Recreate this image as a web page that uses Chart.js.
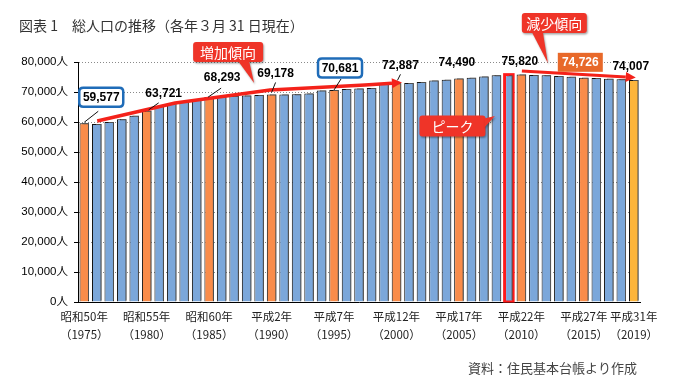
<!DOCTYPE html>
<html>
<head>
<meta charset="utf-8">
<script src="https://cdn.jsdelivr.net/npm/chart.js@4.4.0/dist/chart.umd.min.js"></script>
<style>
  html, body { margin: 0; padding: 0; background: #fff; }
</style>
</head>
<body>
<canvas id="popChart" width="673" height="387"></canvas>
<script>
const years = [1975, 1976, 1977, 1978, 1979, 1980, 1981, 1982, 1983, 1984,
  1985, 1986, 1987, 1988, 1989, 1990, 1991, 1992, 1993, 1994,
  1995, 1996, 1997, 1998, 1999, 2000, 2001, 2002, 2003, 2004,
  2005, 2006, 2007, 2008, 2009, 2010, 2011, 2012, 2013, 2014,
  2015, 2016, 2017, 2018, 2019];

const population = [59577, 59300, 60000, 60900, 62100, 63721, 65300, 66300, 67000, 67600,
  68293, 68450, 68650, 68850, 69000, 69178, 69150, 69250, 69500, 70500,
  70681, 71000, 71200, 71300, 72700, 72887, 73000, 73300, 73800, 74100,
  74490, 74750, 75150, 75550, 75950, 75820, 75700, 75600, 75350, 75100,
  74726, 74650, 74400, 74250, 74007];

const tickYears = [1975, 1980, 1985, 1990, 1995, 2000, 2005, 2010, 2015, 2019];
const tickEras = ['昭和50年', '昭和55年', '昭和60年', '平成2年', '平成7年',
  '平成12年', '平成17年', '平成22年', '平成27年', '平成31年'];

const peakYear = 2009;

const BLUE = '#7BA7DA';
const ORANGE = '#F98C4A';
const GOLD = '#FDB53B';

const barColors = years.map((y, i) =>
  i === years.length - 1 ? GOLD : (y % 5 === 0 ? ORANGE : BLUE));
const borderColors = years.map(y => y === peakYear ? '#FF1A1A' : '#111');
const borderWidths = years.map(y => y === peakYear ? 2 : 1);

// value labels: year, offset of text centre from bar top, style, leader line
const valueLabels = [
  { year: 1975, dx: 17, dy: -26, style: 'blue', leader: [0, -1, 14, -12] },
  { year: 1980, dx: 17, dy: -18, style: 'plain', leader: [2, -1, 12, -8] },
  { year: 1985, dx: 13, dy: -20, style: 'plain', leader: [-1, 0, 12, -9] },
  { year: 1990, dx: 4, dy: -21, style: 'plain', leader: [0, -2, 4, -12] },
  { year: 1995, dx: 6, dy: -22, style: 'blue', leader: [0, 0, 7, -11] },
  { year: 2000, dx: 4, dy: -18, style: 'plain', leader: [1, -3, 4, -9] },
  { year: 2005, dx: -2, dy: -16, style: 'plain' },
  { year: 2010, dx: -1.5, dy: -13.5, style: 'plain' },
  { year: 2015, dx: -3.5, dy: -15.5, style: 'orange' },
  { year: 2019, dx: -3, dy: -14, style: 'plain' }
];

// callouts anchored in data units: [category index, value]
const callouts = [
  { text: '増加傾向', at: [11.52, 83300], w: 70, h: 20, tip: [13.6, 73000], side: 'bottom' },
  { text: '減少傾向', at: [37.64, 93000], w: 65, h: 20, tip: [37.12, 79700], side: 'bottom' },
  { text: 'ピーク', at: [29.48, 58700], w: 66, h: 21, tip: [32.88, 62000], side: 'right' }
];

const trendUp = [[1.04, 60330], [7.28, 66330], [14.88, 70670], [22.48, 72330], [25.44, 73170]];
const trendDown = [[35.04, 77000], [44.16, 74830]];

function roundRectPath(ctx, x, y, w, h, r) {
  ctx.beginPath();
  ctx.moveTo(x + r, y);
  ctx.lineTo(x + w - r, y);
  ctx.quadraticCurveTo(x + w, y, x + w, y + r);
  ctx.lineTo(x + w, y + h - r);
  ctx.quadraticCurveTo(x + w, y + h, x + w - r, y + h);
  ctx.lineTo(x + r, y + h);
  ctx.quadraticCurveTo(x, y + h, x, y + h - r);
  ctx.lineTo(x, y + r);
  ctx.quadraticCurveTo(x, y, x + r, y);
  ctx.closePath();
}

const barShadow = {
  id: 'barShadow',
  beforeDatasetsDraw(chart) {
    const ctx = chart.ctx;
    ctx.save();
    ctx.shadowColor = 'rgba(80,80,80,1)';
    ctx.shadowOffsetX = 3;
    ctx.shadowOffsetY = -1;
    ctx.shadowBlur = 0;
  },
  afterDatasetsDraw(chart) {
    chart.ctx.restore();
  }
};

const decorations = {
  id: 'decorations',
  afterDraw(chart) {
    const ctx = chart.ctx;
    const xs = chart.scales.x, ys = chart.scales.y;
    const P = (p) => [xs.getPixelForValue(p[0]), ys.getPixelForValue(p[1])];
    const meta = chart.getDatasetMeta(0);

    // peak outline redrawn on top so the neighbour's shadow does not hide it
    const pk = meta.data[years.indexOf(peakYear)];
    ctx.save();
    ctx.strokeStyle = '#FF1A1A';
    ctx.lineWidth = 2;
    ctx.strokeRect(pk.x - pk.width / 2, pk.y, pk.width, pk.base - pk.y);
    ctx.restore();

    // title and source
    ctx.save();
    ctx.fillStyle = '#333';
    ctx.textBaseline = 'middle';
    ctx.textAlign = 'left';
    ctx.font = '14px "Noto Sans CJK JP"';
    ctx.fillText('図表 1　総人口の推移（各年３月 31 日現在）', 19, 26);
    ctx.fillStyle = '#444';
    ctx.font = '13px "Noto Sans CJK JP"';
    ctx.fillText('資料：住民基本台帳より作成', 468, 368);
    ctx.restore();

    // red trend arrows
    function arrow(points, width) {
      const pts = points.map(P);
      ctx.save();
      ctx.strokeStyle = '#F4221A';
      ctx.fillStyle = '#F4221A';
      ctx.lineWidth = width;
      ctx.lineJoin = 'round';
      ctx.lineCap = 'butt';
      const n = pts.length;
      const tip = pts[n - 1], prev = pts[n - 2];
      const ang = Math.atan2(tip[1] - prev[1], tip[0] - prev[0]);
      const hl = 10, hw = 5;
      const bx = tip[0] - hl * Math.cos(ang), by = tip[1] - hl * Math.sin(ang);
      ctx.beginPath();
      ctx.moveTo(pts[0][0], pts[0][1]);
      for (let i = 1; i < n - 1; i++) ctx.lineTo(pts[i][0], pts[i][1]);
      ctx.lineTo(bx, by);
      ctx.stroke();
      ctx.beginPath();
      ctx.moveTo(tip[0], tip[1]);
      ctx.lineTo(bx + hw * Math.sin(ang), by - hw * Math.cos(ang));
      ctx.lineTo(bx - hw * Math.sin(ang), by + hw * Math.cos(ang));
      ctx.closePath();
      ctx.fill();
      ctx.restore();
    }
    arrow(trendUp, 3.5);
    arrow(trendDown, 3);

    // value labels
    valueLabels.forEach(l => {
      const i = years.indexOf(l.year);
      const bar = meta.data[i];
      const bx = bar.x, by = bar.y;
      const tx = bx + l.dx, ty = by + l.dy;
      const text = population[i].toLocaleString('en-US');
      ctx.save();
      if (l.leader) {
        ctx.strokeStyle = '#111';
        ctx.lineWidth = 1;
        ctx.beginPath();
        ctx.moveTo(bx + l.leader[0], by + l.leader[1]);
        ctx.lineTo(bx + l.leader[2], by + l.leader[3]);
        ctx.stroke();
      }
      if (l.style === 'blue') {
        roundRectPath(ctx, tx - 22, ty - 9.5, 44, 19, 4);
        ctx.fillStyle = '#fff';
        ctx.fill();
        ctx.strokeStyle = '#1F6CB8';
        ctx.lineWidth = 2.5;
        ctx.stroke();
      } else if (l.style === 'orange') {
        ctx.fillStyle = '#E8692A';
        ctx.fillRect(tx - 22.5, ty - 9.5, 45, 19);
      }
      ctx.font = 'bold 12px "Liberation Sans", Arial, sans-serif';
      ctx.textAlign = 'center';
      ctx.textBaseline = 'middle';
      ctx.fillStyle = l.style === 'orange' ? '#fff' : '#000';
      ctx.fillText(text, tx, ty + 0.5);
      ctx.restore();
    });

    // callouts
    callouts.forEach(c => {
      const [cx, cy] = P(c.at);
      const [px, py] = P(c.tip);
      const x = cx - c.w / 2, y = cy - c.h / 2, r = 3;
      ctx.save();
      ctx.shadowColor = 'rgba(0,0,0,0.35)';
      ctx.shadowOffsetX = 1;
      ctx.shadowOffsetY = 1.5;
      ctx.shadowBlur = 2;
      ctx.fillStyle = '#EF3428';
      roundRectPath(ctx, x, y, c.w, c.h, r);
      ctx.fill();
      ctx.beginPath();
      if (c.side === 'bottom') {
        ctx.moveTo(px - 16, y + c.h - 1);
        ctx.lineTo(px - 5, y + c.h - 1);
        ctx.lineTo(px, py);
      } else {
        ctx.moveTo(x + c.w - 1, y + 3);
        ctx.lineTo(x + c.w - 1, y + 12);
        ctx.lineTo(px, py);
      }
      ctx.closePath();
      ctx.fill();
      ctx.shadowColor = 'transparent';
      ctx.fillStyle = '#fff';
      ctx.font = '14px "Noto Sans CJK JP"';
      ctx.textAlign = 'center';
      ctx.textBaseline = 'middle';
      ctx.fillText(c.text, cx, cy + 0.5);
      ctx.restore();
    });
  }
};

new Chart(document.getElementById('popChart'), {
  type: 'bar',
  data: {
    labels: years,
    datasets: [{
      data: population,
      backgroundColor: barColors,
      borderColor: borderColors,
      borderWidth: borderWidths,
      barPercentage: 0.76,
      categoryPercentage: 1
    }]
  },
  options: {
    responsive: false,
    animation: false,
    layout: { padding: { top: 62, right: 33, bottom: 0, left: 0 } },
    plugins: {
      legend: { display: false },
      tooltip: { enabled: false }
    },
    scales: {
      x: {
        afterFit(s) { s.height = 85; },
        grid: { display: false },
        border: { display: true, color: '#000', width: 1 },
        ticks: {
          autoSkip: false,
          maxRotation: 0,
          padding: -2,
          color: '#222',
          font: { family: '"Noto Sans CJK JP"', size: 11.5, lineHeight: 1.55 },
          callback(v, i) {
            const k = tickYears.indexOf(years[i]);
            return k < 0 ? '' : [tickEras[k], '（' + years[i] + '）'];
          }
        }
      },
      y: {
        min: 0,
        max: 80000,
        afterFit(s) { s.width = 78; },
        grid: { color: '#8a8a8a', tickColor: '#000', tickLength: 4, tickBorderDash: [] },
        border: { display: true, color: '#000', width: 1, dash: [1, 2] },
        ticks: {
          stepSize: 10000,
          padding: 6,
          color: '#000',
          font: { family: '"Liberation Sans", "Noto Sans CJK JP"', size: 11.5 },
          callback: v => v.toLocaleString('en-US') + '人'
        }
      }
    }
  },
  plugins: [barShadow, decorations]
});
</script>
</body>
</html>
